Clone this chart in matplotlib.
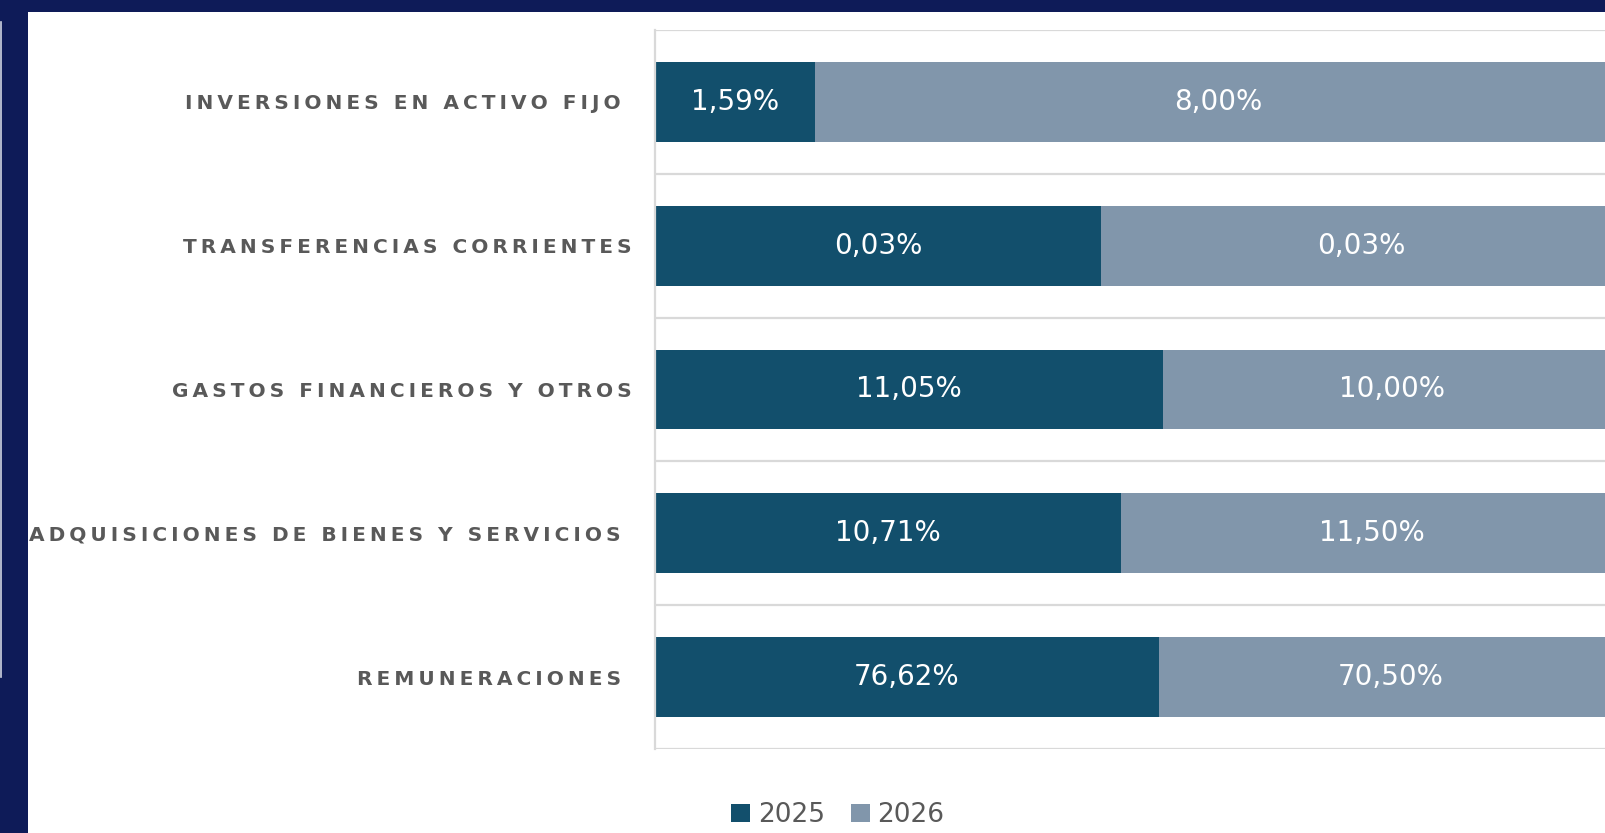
import numpy as np
from matplotlib import pyplot as plt
from matplotlib.patches import Rectangle
from matplotlib.lines import Line2D

# categories from bottom to top (as drawn by barh)
categories = ["REMUNERACIONES ",
              "ADQUISICIONES DE BIENES Y SERVICIOS ",
              "GASTOS FINANCIEROS Y OTROS",
              "TRANSFERENCIAS CORRIENTES",
              "INVERSIONES EN ACTIVO FIJO "]
years = ["2025", "2026"]
pct_2025 = [76.62, 10.71, 11.05, 0.0277, 1.59]
pct_2026 = [70.50, 11.50, 10.00, 0.0323, 8.00]

c_2025 = "#124f6c"
c_2026 = "#8196ab"
navy = "#0e1b58"
grid_c = "#d9d9d9"
text_c = "#595959"


def spaced(s):
    # fake letter spacing with thin spaces
    return "\u2009".join(s)


fig = plt.figure(figsize=(16.06, 8.33), dpi=100)
fig.patch.set_facecolor("white")

# frame of the slide
fig.patches.append(Rectangle((0, 1 - 12 / 833), 1, 12 / 833, transform=fig.transFigure,
                             facecolor=navy, edgecolor="none", zorder=0))
fig.patches.append(Rectangle((0, 0), 28 / 1606, 1, transform=fig.transFigure,
                             facecolor=navy, edgecolor="none", zorder=0))
fig.lines.append(Line2D([1.5 / 1606, 1.5 / 1606], [1 - 22 / 833, 1 - 677 / 833],
                        transform=fig.transFigure, color="#cfd3e0", lw=1.2))

# axes runs past the right edge of the picture on purpose
ax = fig.add_axes([655 / 1606, 84 / 833, 967 / 1606, 719 / 833])

a = np.array(pct_2025)
b = np.array(pct_2026)
share_a = a / (a + b)
share_b = b / (a + b)
y = np.arange(len(categories))

ax.barh(y, share_a, height=0.556, color=c_2025, label=years[0], zorder=2)
ax.barh(y, share_b, left=share_a, height=0.556, color=c_2026, label=years[1], zorder=2)

for i in range(len(y)):
    ax.text(share_a[i] / 2, y[i], f"{a[i]:.2f}%".replace(".", ","), ha="center", va="center",
            color="white", fontsize=20, zorder=3)
    ax.text(share_a[i] + share_b[i] / 2, y[i], f"{b[i]:.2f}%".replace(".", ","), ha="center",
            va="center", color="white", fontsize=20, zorder=3)

ax.set_xlim(0, 1)
ax.set_ylim(-0.5, len(categories) - 0.5)
ax.set_xticks([])
ax.set_yticks(y, [spaced(c) for c in categories])
ax.tick_params(axis="y", length=0, pad=16.5, labelsize=14.5, labelcolor=text_c)
for lab in ax.get_yticklabels():
    lab.set_fontweight("bold")

for sep in np.arange(-0.5, len(categories), 1.0):
    ax.axhline(sep, color=grid_c, lw=1.6, zorder=1)
for side in ["top", "right", "bottom"]:
    ax.spines[side].set_visible(False)
ax.spines["left"].set_color(grid_c)
ax.spines["left"].set_linewidth(1.6)

fig.legend(loc="center", bbox_to_anchor=(838 / 1606, 18 / 833), ncol=2, frameon=False,
           fontsize=19, labelcolor=text_c, handlelength=0.7, handleheight=0.7,
           handletextpad=0.3, columnspacing=1.0)

fig.savefig("out.png", dpi=100)
